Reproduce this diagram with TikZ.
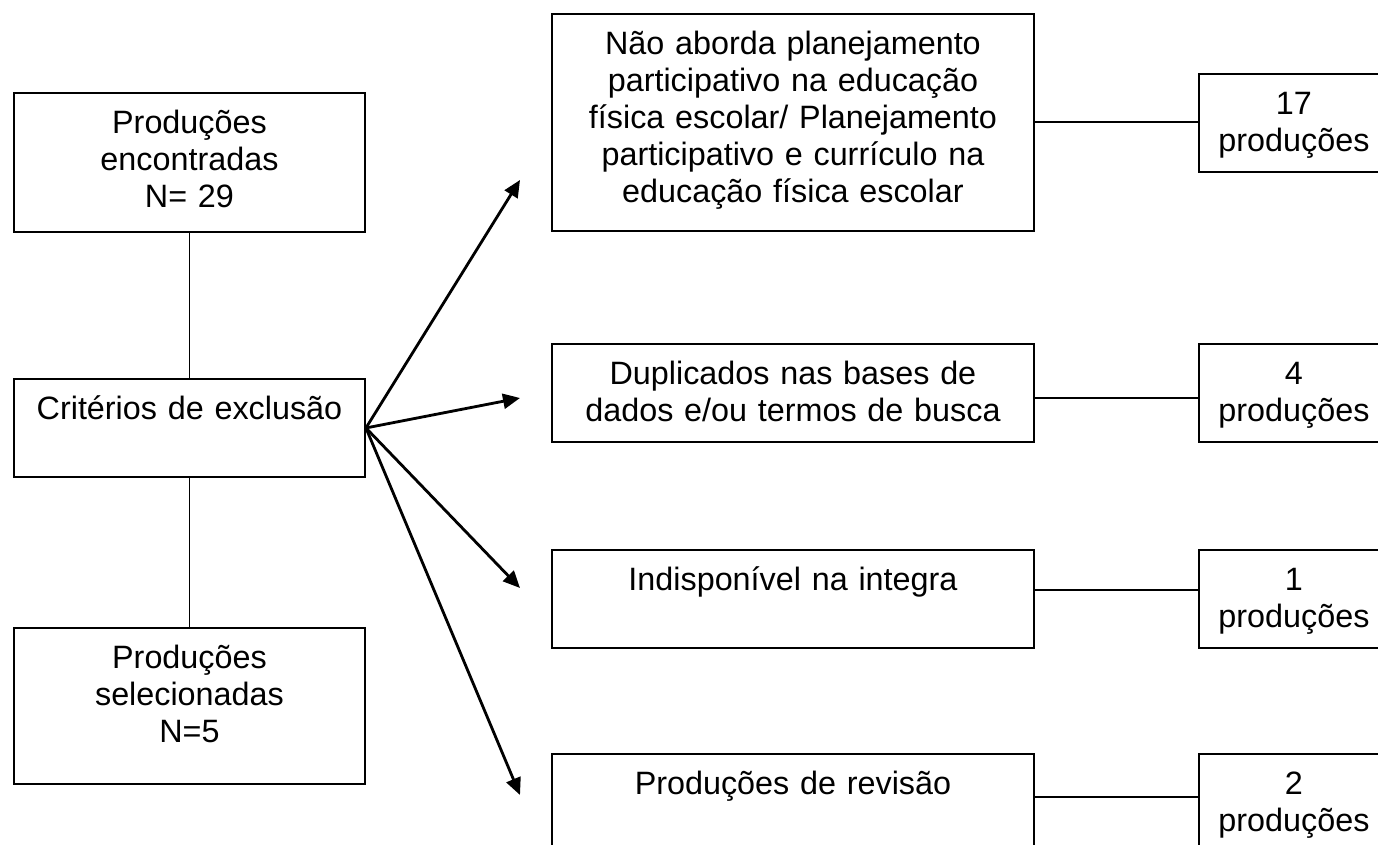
\documentclass[tikz,border=0pt]{standalone}
\usepackage{fontspec}
\setmainfont{Liberation Sans}
\usetikzlibrary{arrows.meta}
\tikzset{
  caixa/.style={draw, anchor=north west, align=center, inner xsep=0pt,
    inner ysep=0pt, text height=0.82cm, text depth=#1},
  seta/.style={-{Triangle[length=3.4mm,width=3mm]}, line width=1.6pt},
}

\begin{document}
\begin{tikzpicture}[font=\fontsize{18.4}{21}\selectfont, line width=1.1pt]
    \useasboundingbox (0,0) rectangle (27.56,-16.9);
    \clip (0,0) rectangle (27.56,-16.9);

    % coluna da esquerda
    \node[caixa=1.96cm, text width=7.02cm]
    (encontradas) at (0.26,-1.84) {Produções\\encontradas\\N= 29};
    \node[caixa=1.14cm, text width=7.02cm]
    (criterios) at (0.26,-7.56) {Critérios de exclusão};
    \node[caixa=2.30cm, text width=7.02cm]
    (selecionadas) at (0.26,-12.54) {Produções\\selecionadas\\N=5};
    \draw (encontradas) -- (criterios);
    \draw (criterios) -- (selecionadas);

    % motivos de exclusao
    \node[caixa=3.52cm, text width=9.64cm]
    (naoaborda) at (11.02,-0.26) {Não aborda planejamento\\participativo na educação\\física escolar/ Planejamento\\participativo e currículo na\\educação física escolar};
    \node[caixa=1.14cm, text width=9.64cm]
    (duplicados) at (11.02,-6.86) {Duplicados nas bases de\\dados e/ou termos de busca};
    \node[caixa=1.14cm, text width=9.64cm]
    (indisponivel) at (11.02,-10.98) {Indisponível na integra};
    \node[caixa=1.14cm, text width=9.64cm]
    (revisao) at (11.02,-15.06) {Produções de revisão};

    % quantidades
    \node[caixa=1.14cm, text width=3.8cm]
    (n17) at (23.96,-1.46) {17\\produções};
    \node[caixa=1.14cm, text width=3.8cm]
    (n4) at (23.96,-6.86) {4\\produções};
    \node[caixa=1.14cm, text width=3.8cm]
    (n1) at (23.96,-10.98) {1\\produções};
    \node[caixa=1.14cm, text width=3.8cm]
    (n2) at (23.96,-15.06) {2\\produções};

    \draw (naoaborda.east) -- (n17.west |- naoaborda.east);
    \draw ([yshift=-0.1cm]duplicados.east) -- ([yshift=-0.1cm]n4.west);
    \draw ([yshift=0.18cm]indisponivel.east) -- ([yshift=0.18cm]n1.west);
    \draw ([yshift=0.12cm]revisao.east) -- ([yshift=0.12cm]n2.west);

    % setas
    \coordinate (p1) at (10.4,-3.6);
    \coordinate (p2) at (10.4,-7.96);
    \coordinate (p3) at (10.4,-11.76);
    \coordinate (p4) at (10.4,-15.9);
    \foreach \p in {p1,p2,p3,p4}
        \draw[seta] (criterios.east) -- (\p);
\end{tikzpicture}
\end{document}
